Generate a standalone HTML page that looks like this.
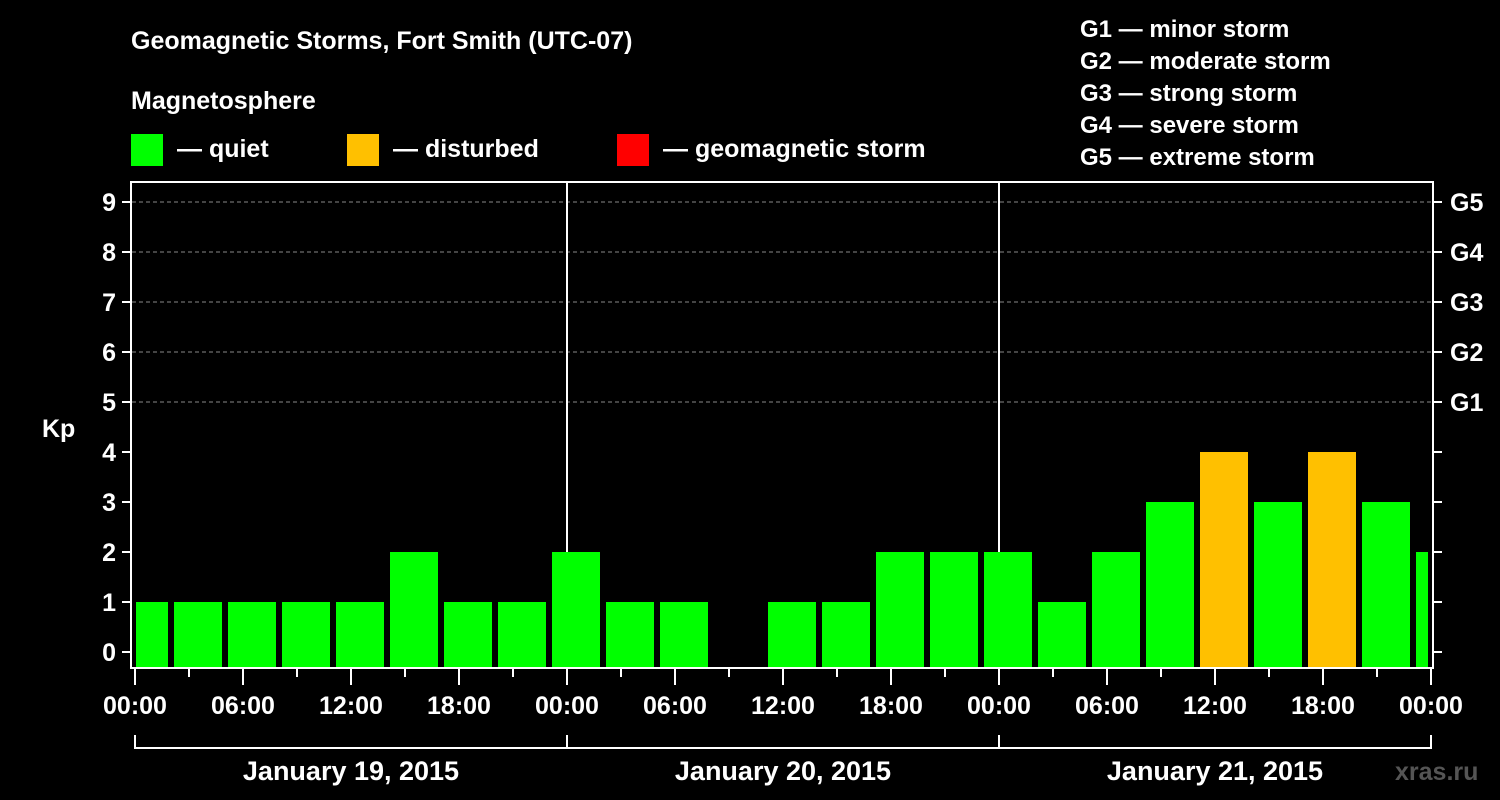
<!DOCTYPE html>
<html><head><meta charset="utf-8"><style>
html,body{margin:0;padding:0;background:#000;}
svg{display:block;font-family:"Liberation Sans",Arial,sans-serif;font-weight:bold;}
</style></head><body>
<svg id="chart" width="1500" height="800" viewBox="0 0 1500 800">
<rect width="1500" height="800" fill="#000"/>
<text x="131" y="49" fill="#fff" font-size="25">Geomagnetic Storms, Fort Smith (UTC-07)</text>
<text x="131" y="109" fill="#fff" font-size="25">Magnetosphere</text>
<g><rect x="131" y="134" width="32" height="32" fill="#00ff00"/><text x="177" y="157" fill="#fff" font-size="25">— quiet</text></g>
<g><rect x="347" y="134" width="32" height="32" fill="#ffc000"/><text x="393" y="157" fill="#fff" font-size="25">— disturbed</text></g>
<g><rect x="617" y="134" width="32" height="32" fill="#ff0000"/><text x="663" y="157" fill="#fff" font-size="25">— geomagnetic storm</text></g>
<g fill="#fff" font-size="24">
<text x="1080" y="37">G1 — minor storm</text>
<text x="1080" y="69">G2 — moderate storm</text>
<text x="1080" y="101">G3 — strong storm</text>
<text x="1080" y="133">G4 — severe storm</text>
<text x="1080" y="165">G5 — extreme storm</text>
</g>
<text x="42" y="437" fill="#fff" font-size="25">Kp</text>
<text x="1395" y="780" fill="#555" font-size="25">xras.ru</text>
<g id="grid"></g><g id="bars"></g><g id="axes"></g>
</svg>
<script>
const kpValues=[1,1,1,1,1,2,1,1,2,1,1,0,1,1,2,2,2,1,2,3,4,3,4,3,2];
const yTicks=[0,1,2,3,4,5,6,7,8,9];
const gLabels=["G1","G2","G3","G4","G5"];
const gLevels=[5,6,7,8,9];
const xTickLabels=["00:00","06:00","12:00","18:00","00:00","06:00","12:00","18:00","00:00","06:00","12:00","18:00","00:00"];
const dayLabels=["January 19, 2015","January 20, 2015","January 21, 2015"];
const NS="http://www.w3.org/2000/svg";
const X0=135,PXH=18,Y0=652,PXK=50,PL=131,PR=1433,PT=182,PB=668;
const x=h=>X0+h*PXH, y=k=>Y0-k*PXK;
function mk(p,t,a){const e=document.createElementNS(NS,t);for(const k in a)e.setAttribute(k,a[k]);p.appendChild(e);return e;}
const grid=document.getElementById('grid'),bars=document.getElementById('bars'),axes=document.getElementById('axes');
gLevels.forEach((g,i)=>{const l=mk(grid,'line',{x1:PL+1,x2:PR-1,y1:y(g),y2:y(g),stroke:'#888','stroke-dasharray':'4,3','stroke-width':1});

});
[1,2].forEach(d=>{const l=mk(grid,'line',{x1:x(d*24),x2:x(d*24),y1:PT,y2:PB,stroke:'#fff','stroke-width':2});

});
kpValues.forEach((v,i)=>{if(v<=0)return;
let l=x(i*3)-15,r=x(i*3)+33;l=Math.max(l,136);r=Math.min(r,1428);
const b=mk(bars,'rect',{x:l,y:y(v),width:r-l,height:PB-y(v),fill:v>=5?'#ff0000':v>=4?'#ffc000':'#00ff00'});

});
const frame=mk(axes,'rect',{x:PL,y:PT,width:PR-PL,height:PB-PT,fill:'none',stroke:'#fff','stroke-width':2});


yTicks.forEach(k=>{mk(axes,'line',{x1:122,x2:PL,y1:y(k),y2:y(k),stroke:'#fff','stroke-width':2});
mk(axes,'line',{x1:PR,x2:1442,y1:y(k),y2:y(k),stroke:'#fff','stroke-width':2});
const t=mk(axes,'text',{x:116,y:y(k)+9,fill:'#fff','font-size':25,'text-anchor':'end'});t.textContent=k;

});
gLevels.forEach((g,i)=>{const t=mk(axes,'text',{x:1450,y:y(g)+9,fill:'#fff','font-size':25});t.textContent=gLabels[i];

});
for(let h=0;h<=72;h+=3){const maj=h%6===0;mk(axes,'line',{x1:x(h),x2:x(h),y1:PB,y2:maj?685:677,stroke:'#fff','stroke-width':2});}
xTickLabels.forEach((s,i)=>{const t=mk(axes,'text',{x:x(i*6),y:714,fill:'#fff','font-size':25,'text-anchor':'middle'});t.textContent=s;

});
mk(axes,'path',{d:`M${x(0)} 735V748H${x(72)}V735M${x(24)} 735V748M${x(48)} 735V748`,stroke:'#fff','stroke-width':2,fill:'none'});
dayLabels.forEach((s,i)=>{const t=mk(axes,'text',{x:x(i*24+12),y:780,fill:'#fff','font-size':27,'text-anchor':'middle'});t.textContent=s;

});
</script>
</body></html>
